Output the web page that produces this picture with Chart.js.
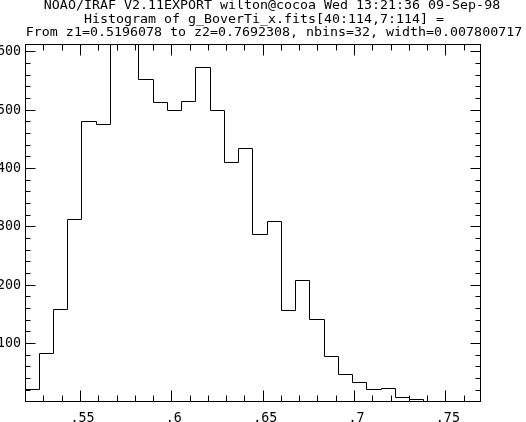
<!DOCTYPE html>
<html><head><meta charset="utf-8">
<script src="https://cdn.jsdelivr.net/npm/chart.js@4/dist/chart.umd.min.js"></script>
<style>html,body{margin:0;padding:0;background:#fff}</style>
</head><body>
<canvas id="c" width="526" height="422"></canvas>
<script>
const titleLines = [
  "NOAO/IRAF V2.11EXPORT wilton@cocoa Wed 13:21:36 09-Sep-98",
  "Histogram of g_BoverTi_x.fits[40:114,7:114] =",
  "From z1=0.5196078 to z2=0.7692308, nbins=32, width=0.007800717"
];
const z1 = 0.5196078, z2 = 0.7692308, binWidth = 0.007800717;
const counts = [11,21,83,158,312,480,476,640,630,552,513,500,515,573,500,410,
                434,287,309,157,208,142,78,47,33,22,23,7,5,0,0,0];
const yMax = 613.5;
const xMajorTicks = [0.55, 0.60, 0.65, 0.70, 0.75];
const xTickLabels = [".55", ".6", ".65", ".7", ".75"];
const xMinorTicks = [0.52,0.53,0.54,0.56,0.57,0.58,0.59,0.61,0.62,0.63,0.64,0.66,0.67,0.68,0.69,0.71,0.72,0.73,0.74,0.76];
const yMajorTicks = [100, 200, 300, 400, 500, 600];
const yMinorTicks = [20,40,60,80,120,140,160,180,220,240,260,280,320,340,360,380,420,440,460,480,520,540,560,580];

const edges = counts.map((_, i) => z1 + i * binWidth);
const points = counts.map((c, i) => ({x: edges[i], y: c}));
points.push({x: z2, y: counts[counts.length - 1]});

const FONT = 'DejaVu Sans Mono';
const titlePos = [[272, 9], [264, 23], [274, 36]];

const titleText = {
  id: 'titleText',
  afterDraw(chart) {
    const ctx = chart.ctx;
    ctx.fillStyle = '#000';
    ctx.font = '12px "' + FONT + '"';
    ctx.textAlign = 'center';
    ctx.textBaseline = 'alphabetic';
    titleLines.forEach((t, i) => {
      ctx.save();
      ctx.translate(titlePos[i][0], titlePos[i][1]);
      ctx.scale(1.108, 1);
      ctx.fillText(t, 0, 0);
      ctx.restore();
    });
  }
};

const snapLine = {
  id: 'snapLine',
  beforeDatasetsDraw(chart) {
    chart.getDatasetMeta(0).data.forEach(p => {
      p.x = Math.floor(p.x) + 0.5;
      p.y = Math.ceil(p.y) - 0.5;
    });
  }
};

const boxTicks = {
  id: 'boxTicks',
  afterDatasetsDraw(chart) {
    const {ctx, chartArea: a, scales: {x, y}} = chart;
    ctx.save();
    ctx.strokeStyle = '#000';
    ctx.lineWidth = 1;
    const L = Math.round(a.left) + 0.5, R = Math.round(a.right) - 0.5;
    const T = Math.round(a.top) + 0.5, B = Math.round(a.bottom) - 0.5;
    ctx.strokeRect(L, T, R - L, B - T);
    ctx.beginPath();
    const xt = (v, len) => {
      const p = Math.floor(x.getPixelForValue(v)) + 0.5;
      ctx.moveTo(p, B); ctx.lineTo(p, B - len);
      ctx.moveTo(p, T); ctx.lineTo(p, T + len);
    };
    const yt = (v, len) => {
      const p = Math.ceil(y.getPixelForValue(v)) - 0.5;
      ctx.moveTo(L, p); ctx.lineTo(L + len, p);
      ctx.moveTo(R, p); ctx.lineTo(R - len, p);
    };
    xMajorTicks.forEach(v => xt(v, 11));
    xMinorTicks.forEach(v => xt(v, 6));
    yMajorTicks.forEach(v => yt(v, 10));
    yMinorTicks.forEach(v => yt(v, 5));
    ctx.stroke();
    ctx.restore();
  }
};

new Chart(document.getElementById('c'), {
  type: 'line',
  data: {
    datasets: [{
      data: points,
      stepped: 'after',
      borderColor: '#000',
      borderWidth: 1,
      pointRadius: 0,
      fill: false,
      tension: 0
    }]
  },
  options: {
    responsive: false,
    animation: false,
    devicePixelRatio: 1,
    layout: {padding: {left: 0, right: 45, top: 44, bottom: 0}},
    plugins: {
      legend: {display: false},
      tooltip: {enabled: false},
      title: {display: false}
    },
    scales: {
      x: {
        type: 'linear',
        min: z1, max: z2,
        grid: {display: false, drawTicks: false},
        border: {display: false},
        afterBuildTicks: s => { s.ticks = xMajorTicks.map(v => ({value: v})); },
        afterFit: s => { s.height = 20; },
        ticks: {
          autoSkip: false, maxRotation: 0, padding: 9, labelOffset: 2,
          color: '#000',
          font: {family: FONT, size: 13.33},
          callback: (v, i) => xTickLabels[i]
        }
      },
      y: {
        type: 'linear',
        min: 0, max: yMax,
        grid: {display: false, drawTicks: false},
        border: {display: false},
        afterBuildTicks: s => { s.ticks = yMajorTicks.map(v => ({value: v})); },
        afterFit: s => { s.width = 25; },
        ticks: {
          autoSkip: false, padding: 4,
          color: '#000',
          font: {family: FONT, size: 13.33},
          callback: v => String(v)
        }
      }
    }
  },
  plugins: [snapLine, boxTicks, titleText]
});
</script>
</body></html>
